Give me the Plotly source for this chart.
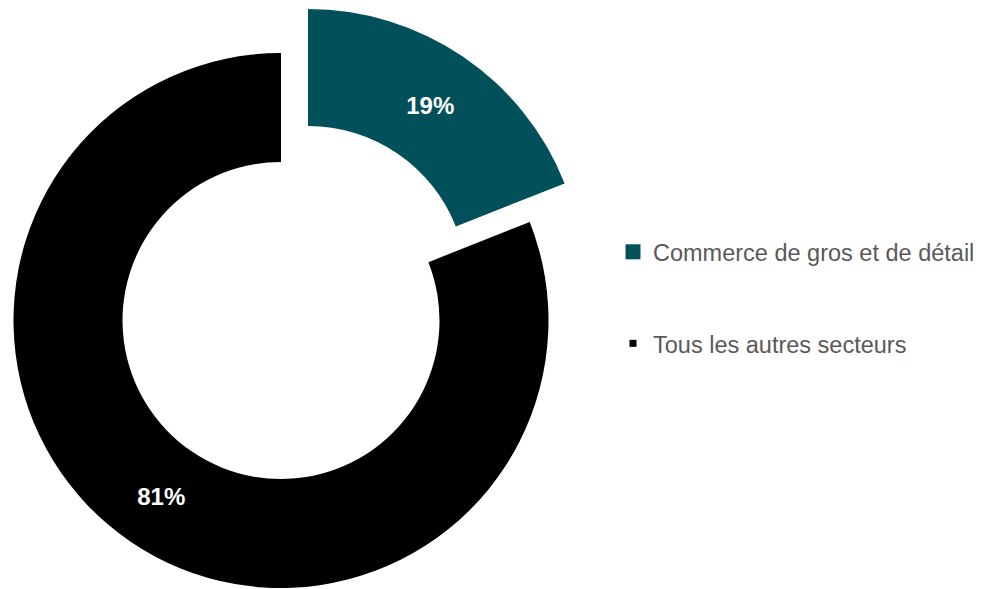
import plotly.graph_objects as go

# Data
categories = ["Commerce de gros et de détail", "Tous les autres secteurs"]
values = [19, 81]
colors = ["#01505A", "#000000"]

W, H = 984, 589
FONT = "Liberation Sans, Arial, sans-serif"

def dom_x(left, right):
    return [left / W, right / W]

def dom_y(top, bottom):
    return [1 - bottom / H, 1 - top / H]

fig = go.Figure()

# Main ring: "Tous les autres secteurs" (the first slice is left transparent)
fig.add_trace(go.Pie(
    labels=categories, values=values, sort=False, direction="clockwise", rotation=0,
    hole=0.5925,
    marker=dict(colors=["rgba(0,0,0,0)", colors[1]], line=dict(width=0)),
    texttemplate=["", "%{percent:.0%}"], textposition="inside",
    insidetextorientation="horizontal",
    textfont=dict(family=FONT, size=24, color="white", weight="bold"),
    domain=dict(x=dom_x(13.5, 548.5), y=dom_y(53, 588)),
    showlegend=False, hoverinfo="label+percent",
))

# Exploded slice: "Commerce de gros et de détail"
fig.add_trace(go.Pie(
    labels=categories, values=values, sort=False, direction="clockwise", rotation=0,
    hole=0.576,
    marker=dict(colors=[colors[0], "rgba(0,0,0,0)"], line=dict(width=0)),
    texttemplate=["%{percent:.0%}", ""], textposition="inside",
    insidetextorientation="horizontal",
    textfont=dict(family=FONT, size=24, color="white", weight="bold"),
    domain=dict(x=dom_x(32, 584), y=dom_y(9, 561)),
    showlegend=False, hoverinfo="label+percent",
))

# Legend entries
legend_sizes = [15, 7]
for i, (cat, col) in enumerate(zip(categories, colors)):
    fig.add_trace(go.Scatter(
        x=[None], y=[None], mode="markers", name=cat,
        marker=dict(symbol="square", size=legend_sizes[i], color=col),
        legendgroup=f"g{i}", showlegend=True,
    ))

fig.update_layout(
    width=W, height=H,
    margin=dict(l=0, r=0, t=0, b=0),
    paper_bgcolor="white", plot_bgcolor="white",
    xaxis=dict(visible=False), yaxis=dict(visible=False),
    font=dict(family=FONT),
    legend=dict(
        x=613 / W, xanchor="left", y=0.494, yanchor="middle",
        font=dict(family=FONT, size=23.5, color="#595959"),
        traceorder="grouped", tracegroupgap=58,
        bgcolor="rgba(0,0,0,0)", itemclick=False, itemdoubleclick=False,
    ),
)

fig.write_html(
    "out.html",
    config={"displayModeBar": False},
    post_script="document.body.style.margin='0';document.body.style.overflow='hidden';",
)
